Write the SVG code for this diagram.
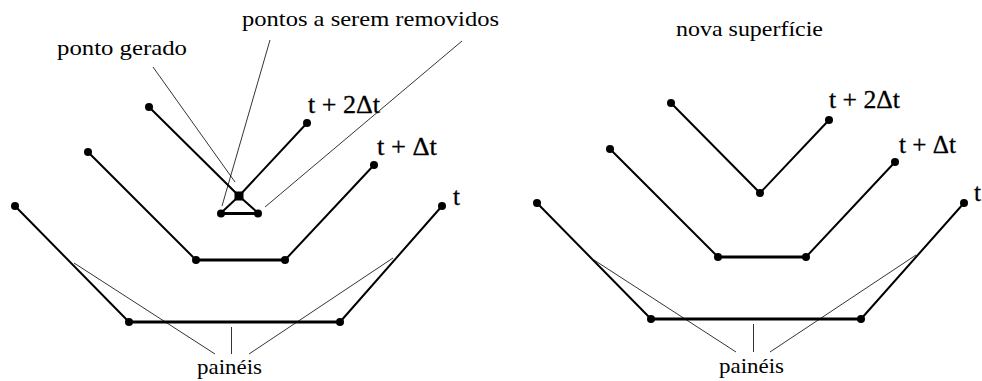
<svg xmlns="http://www.w3.org/2000/svg" width="982" height="381" viewBox="0 0 982 381" font-family="Liberation Serif, Times New Roman, serif">
<style>
.s{fill:none;stroke:#000;stroke-width:2;stroke-linejoin:round;stroke-linecap:round}
.b{fill:none;stroke:#000;stroke-width:3}
.d{fill:#000}
.l{fill:none;stroke:#000;stroke-width:0.8}
.lab{font-size:22px;fill:#000}
.t{font-size:25px;fill:#000;stroke:#000;stroke-width:0.3}
</style>
<rect width="982" height="381" fill="#fff"/>
<g id="left">
  <g id="left-t">
    <polyline class="s" points="15,206 129,322"/>
    <polyline class="s" points="340,322 442,206"/>
    <line class="b" x1="129" y1="322" x2="340" y2="322"/>
    <circle class="d" cx="15" cy="206" r="4"/><circle class="d" cx="129" cy="322" r="4"/>
    <circle class="d" cx="340" cy="322" r="4"/><circle class="d" cx="442" cy="206" r="4"/>
    <text class="t" x="453" y="205" font-family="Liberation Serif, serif">t</text>
  </g>
  <g id="left-t1">
    <polyline class="s" points="88,152 196,260"/>
    <polyline class="s" points="285,260 374,165"/>
    <line class="b" x1="196" y1="260" x2="285" y2="260"/>
    <circle class="d" cx="88" cy="152" r="4"/><circle class="d" cx="196" cy="260" r="4"/>
    <circle class="d" cx="285" cy="260" r="4"/><circle class="d" cx="374" cy="165" r="4"/>
    <text class="t" x="377" y="155" textLength="60" lengthAdjust="spacingAndGlyphs" font-family="Liberation Serif, serif">t + Δt</text>
  </g>
  <g id="left-t2">
    <polyline class="s" points="149,107 239,196 307,123"/>
    <circle class="d" cx="149" cy="107" r="4"/><circle class="d" cx="307" cy="123" r="4"/>
    <text class="t" x="308" y="113" textLength="72" lengthAdjust="spacingAndGlyphs" font-family="Liberation Serif, serif">t + 2Δt</text>
  </g>
  <g id="left-removed">
    <polyline class="s" points="221,213 239,196 258,213"/>
    <line class="b" x1="221" y1="213.5" x2="258" y2="213.5"/>
    <rect class="d" x="234.5" y="191.5" width="9" height="9"/>
    <circle class="d" cx="221" cy="213.5" r="4"/><circle class="d" cx="258" cy="213.5" r="4"/>
  </g>
  <g id="lbl-ponto-gerado"><text class="lab" x="57" y="55" textLength="130" lengthAdjust="spacingAndGlyphs" font-family="Liberation Serif, serif">ponto gerado</text></g>
  <g id="lbl-pontos-removidos"><text class="lab" x="242" y="26" textLength="257" lengthAdjust="spacingAndGlyphs" font-family="Liberation Serif, serif">pontos a serem removidos</text></g>
  <g id="lbl-paineis-left"><text class="lab" x="197" y="374" textLength="65" lengthAdjust="spacingAndGlyphs" font-family="Liberation Serif, serif">painéis</text></g>
</g>
<g id="right">
  <g id="right-t">
    <polyline class="s" points="537,203 651,319"/>
    <polyline class="s" points="861,319 964,203"/>
    <line class="b" x1="651" y1="319" x2="861" y2="319"/>
    <circle class="d" cx="537" cy="203" r="4"/><circle class="d" cx="651" cy="319" r="4"/>
    <circle class="d" cx="861" cy="319" r="4"/><circle class="d" cx="964" cy="203" r="4"/>
    <text class="t" x="974" y="201" font-family="Liberation Serif, serif">t</text>
  </g>
  <g id="right-t1">
    <polyline class="s" points="610,149 718,257"/>
    <polyline class="s" points="806,257 895,162"/>
    <line class="b" x1="718" y1="257" x2="806" y2="257"/>
    <circle class="d" cx="610" cy="149" r="4"/><circle class="d" cx="718" cy="257" r="4"/>
    <circle class="d" cx="806" cy="257" r="4"/><circle class="d" cx="895" cy="162" r="4"/>
    <text class="t" x="899" y="153" textLength="57" lengthAdjust="spacingAndGlyphs" font-family="Liberation Serif, serif">t + Δt</text>
  </g>
  <g id="right-t2">
    <polyline class="s" points="671,103 760,193 829,120"/>
    <circle class="d" cx="671" cy="103" r="4"/><circle class="d" cx="760" cy="193" r="4"/><circle class="d" cx="829" cy="120" r="4"/>
    <text class="t" x="829" y="108" textLength="71" lengthAdjust="spacingAndGlyphs" font-family="Liberation Serif, serif">t + 2Δt</text>
  </g>
  <g id="lbl-nova"><text class="lab" x="676" y="36" textLength="147" lengthAdjust="spacingAndGlyphs" font-family="Liberation Serif, serif">nova superfície</text></g>
  <g id="lbl-paineis-right"><text class="lab" x="719" y="373" textLength="65" lengthAdjust="spacingAndGlyphs" font-family="Liberation Serif, serif">painéis</text></g>
</g>
<g id="connectors">
  <line class="l" x1="153" y1="67" x2="235" y2="182"/>
  <line class="l" x1="270" y1="40" x2="222" y2="206"/>
  <line class="l" x1="462" y1="41" x2="265" y2="207"/>
  <line class="l" x1="74" y1="263" x2="215" y2="354"/>
  <line class="l" x1="231.5" y1="327" x2="231.5" y2="354"/>
  <line class="l" x1="393" y1="258" x2="249" y2="354"/>
  <line class="l" x1="594" y1="260" x2="736" y2="352"/>
  <line class="l" x1="753.5" y1="324" x2="753.5" y2="352"/>
  <line class="l" x1="916" y1="255" x2="770" y2="352"/>
</g>
</svg>
